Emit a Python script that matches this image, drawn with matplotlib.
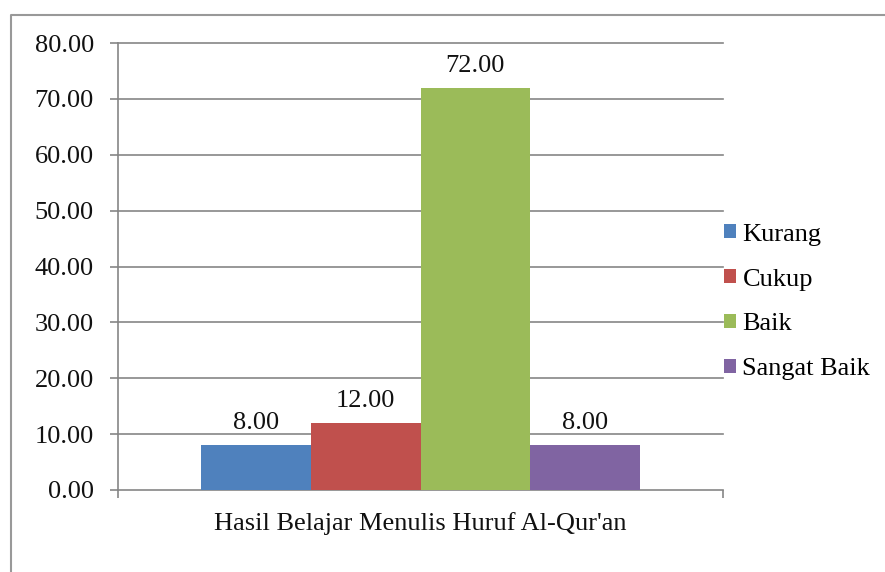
import matplotlib
matplotlib.use("Agg")
import matplotlib.pyplot as plt
from matplotlib.lines import Line2D
from matplotlib.patches import Patch

categories = ["Kurang", "Cukup", "Baik", "Sangat Baik"]
values = [8.00, 12.00, 72.00, 8.00]
colors = ["#4F81BD", "#C0504D", "#9BBB59", "#8064A2"]
group_label = "Hasil Belajar Menulis Huruf Al-Qur'an"
yticks = [0, 10, 20, 30, 40, 50, 60, 70, 80]

plt.rcParams['font.family'] = ['Liberation Serif', 'DejaVu Serif']
W, H = 885, 572
fig = plt.figure(figsize=(W / 100, H / 100), dpi=100)
ax = fig.add_axes([118 / W, 1 - 490 / H, (723 - 118) / W, (490 - 43) / H])

grid_c = "#868686"
bw = 0.7262 / 4
for i, (c, v, col) in enumerate(zip(categories, values, colors)):
    x = (i - 1.5) * bw
    ax.bar(x, v, width=bw, color=col, label=c, zorder=3)
    ax.annotate(f"{v:.2f}", (x, v), xytext=(0, 11.5), textcoords="offset points",
                ha="center", va="baseline", fontsize=19, color="#111111")

ax.set_xlim(-0.5, 0.5)
ax.set_ylim(0, 80)
ax.set_yticks(yticks)
ax.set_yticklabels([f"{t:.2f}" for t in yticks], fontsize=19, color="#111111")
ax.set_xticks([-0.5, 0.5])
ax.set_xticklabels(["", ""])
ax.tick_params(axis="y", length=5.8, width=1.2, color=grid_c, pad=11.5)
ax.tick_params(axis="x", length=5.5, width=1.2, color=grid_c)
for t in yticks[1:]:
    ax.axhline(t, color=grid_c, lw=1.2, zorder=1, clip_on=False)
for s in ["top", "right"]:
    ax.spines[s].set_visible(False)
for s in ["left", "bottom"]:
    ax.spines[s].set_color(grid_c)
    ax.spines[s].set_linewidth(1.2)

ax.text(0, -0.0895, group_label, transform=ax.get_xaxis_transform(),
        ha="center", va="baseline", fontsize=19, color="#111111")

handles = [Patch(facecolor=col, edgecolor="none") for col in colors]
fig.legend(handles, categories, loc="center left",
           bbox_to_anchor=(724 / W, 1 - 302 / H), frameon=False, fontsize=19,
           handlelength=0.45, handleheight=0.45, handletextpad=0.25,
           labelspacing=0.87, borderpad=0, borderaxespad=0)

fig.add_artist(Line2D([11 / W, 11 / W, 1.0], [0, 1 - 15 / H, 1 - 15 / H],
                      color="#999999", lw=1.5, transform=fig.transFigure))

fig.savefig("out.png", dpi=100)
